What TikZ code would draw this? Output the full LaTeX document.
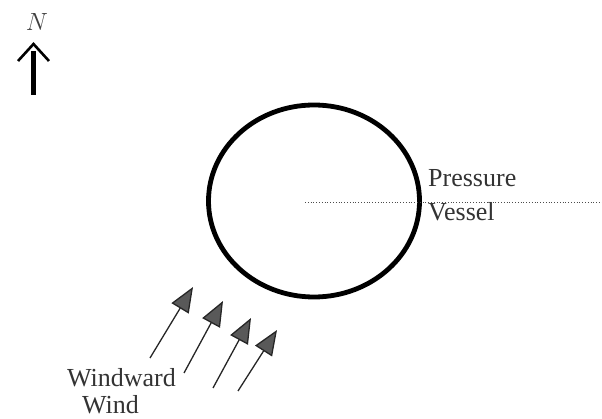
\documentclass[tikz,border=0pt]{standalone}
\usepackage{fontspec}
\setmainfont{Liberation Serif}
\usetikzlibrary{arrows.meta,shapes.geometric}
\begin{document}
\begin{tikzpicture}[x=1pt,y=-1pt,
		lbl/.style={font=\fontsize{26}{26}\selectfont, text=black!80, inner sep=0pt, anchor=base west},
		windarrow/.style={line width=1.3pt, black!85,
			-{Triangle[length=25pt,width=20pt,fill=black!65]}}]
				\useasboundingbox (0,0) rectangle (602,419);

				% vessel
				\node[ellipse, draw, line width=4.8pt, minimum width=211pt, minimum height=192pt] (vessel) at (314,201) {};
				\coordinate (vc) at (305,202);
				\coordinate (edge) at (602,202);
				\draw[dotted, line width=0.8pt, black!70] (vc) -- (edge);
				\node[lbl] (press) at (428,187) {Pressure};
				\node[lbl] (vess) at (428,221) {Vessel};

				% north arrow
				\node[font=\fontsize{28}{28}\selectfont, text=black!75] (north) at (37,22) {$N$};
				\coordinate (nbot) at (33.5,95);
				\coordinate (ntop) at (33.5,51);
				\draw[line width=5pt] (nbot) -- (ntop);
				\draw[line width=2.6pt] (18,61) -- (33.5,44) -- (49,61);

				% wind
				\foreach \tx/\ty/\hx/\hy [count=\i] in {150/358/193/287, 184/373/223/301, 213/388/251/318, 238/391/277/330}{
						\coordinate (t\i) at (\tx,\ty);
						\coordinate (h\i) at (\hx,\hy);
						\draw[windarrow] (t\i) -- (h\i);
				}
				\node[lbl] (windward) at (67,386) {Windward};
				\node[lbl] (wind) at (82,413) {Wind};
		\end{tikzpicture}
\end{document}
